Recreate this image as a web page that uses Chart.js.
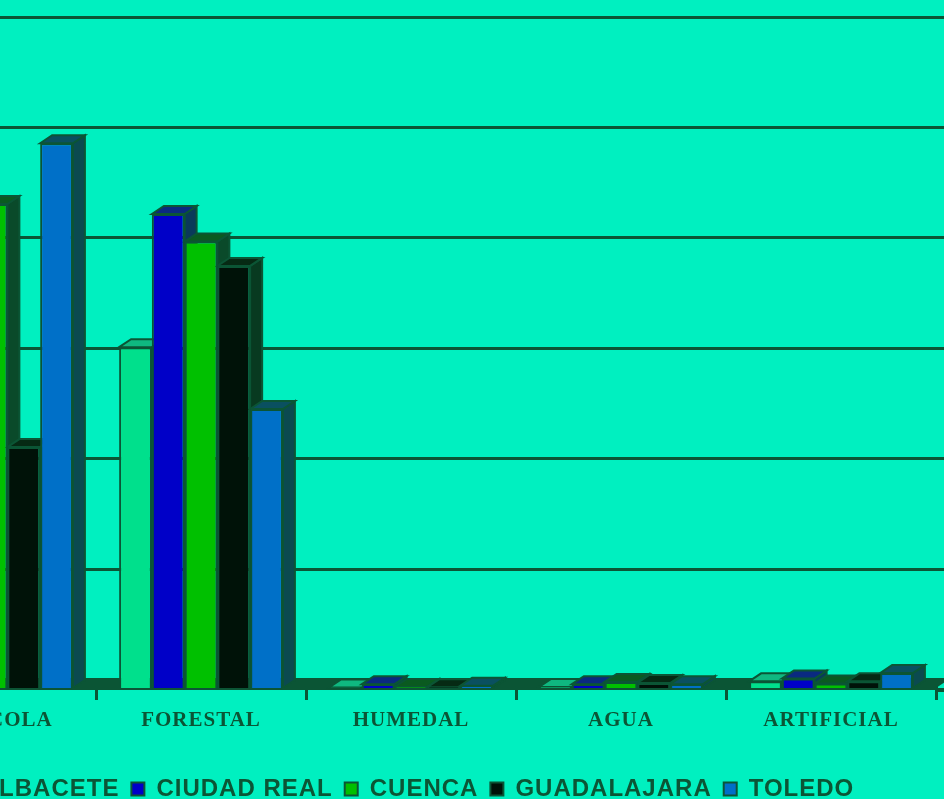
<!DOCTYPE html>
<html><head><meta charset="utf-8">
<script src="https://cdn.jsdelivr.net/npm/chart.js@4/dist/chart.umd.min.js"></script>
<style>
html,body{margin:0;padding:0;background:#00f0c0;overflow:hidden;width:944px;height:799px;}
#wrap{position:absolute;left:-130px;top:0;width:1080px;height:811px;}
</style></head><body>
<div id="wrap"><canvas id="c" width="1080" height="811"></canvas></div>
<script>
// ---- data (hectares) ----
const categories = ['AGRÍCOLA', 'FORESTAL', 'HUMEDAL', 'AGUA', 'ARTIFICIAL'];
const provinces = ['ALBACETE', 'CIUDAD REAL', 'CUENCA', 'GUADALAJARA', 'TOLEDO'];
const albacete    = [800000,  617000, 1000,  2000, 12000];
const ciudadReal  = [1050000, 858000, 7000,  7000, 17000];
const cuenca      = [876000,  808000, 2000, 11000,  8000];
const guadalajara = [436000,  764000, 1500,  9000, 12000];
const toledo      = [986000,  505000, 4000,  7000, 27000];
const gridTicks   = [0, 200000, 400000, 600000, 800000, 1000000, 1200000];

// ---- styles ----
const frontColors = ['#00e08c', '#0000c8', '#00c000', '#001208', '#0070c8'];
const capColors   = ['#0fb880', '#0a2a80', '#0a5a20', '#062a14', '#0a5060'];
const sideColors  = ['#0a4a35', '#0a3a5a', '#0a4a2a', '#083a20', '#0b4a50'];
const DARK = '#0b5535';
const DX = 12, DY = 8;
const TOP = 17, BOTTOM = 685;
const YMAX = 1200000;
const H = BOTTOM - TOP;
const D = DY * YMAX / (H - DY);   // depth expressed in value units

const seriesValues = [albacete, ciudadReal, cuenca, guadalajara, toledo];

const spacing = {
  id: 'spacing',
  beforeLayout(chart) { chart.ctx.letterSpacing = '1px'; },
  beforeDraw(chart) { chart.ctx.letterSpacing = '1px'; }
};

function align(px, w) { return Math.round(px - w / 2) + w / 2; }

const depth3d = {
  id: 'depth3d',
  beforeDatasetsDraw(chart) {
    const ctx = chart.ctx, a = chart.chartArea;
    const g = chart.scales.g;
    ctx.save();
    // extend back-wall grid lines to the right by the depth
    ctx.strokeStyle = DARK; ctx.lineWidth = 3;
    gridTicks.forEach(v => {
      const y = align(g.getPixelForValue(v), 3);
      ctx.beginPath(); ctx.moveTo(a.right - 1, y); ctx.lineTo(a.right + DX, y); ctx.stroke();
    });
    // floor
    ctx.fillStyle = DARK;
    ctx.beginPath();
    ctx.moveTo(a.left, a.bottom); ctx.lineTo(a.right, a.bottom);
    ctx.lineTo(a.right + DX, a.bottom - DY); ctx.lineTo(a.left + DX, a.bottom - DY);
    ctx.closePath(); ctx.fill();
    const n = chart.data.labels.length;
    for (let j = 0; j < n; j++) {
      chart.data.datasets.forEach((ds, i) => {
        const el = chart.getDatasetMeta(i).data[j];
        if (!el) return;
        const p = el.getProps(['x', 'y', 'base', 'width'], true);
        const l = p.x - p.width / 2, r = p.x + p.width / 2;
        ctx.lineWidth = 2;
        ctx.strokeStyle = DARK;
        // side
        ctx.fillStyle = sideColors[i];
        ctx.beginPath();
        ctx.moveTo(r, p.y); ctx.lineTo(r + DX, p.y - DY);
        ctx.lineTo(r + DX, p.base - DY); ctx.lineTo(r, p.base);
        ctx.closePath(); ctx.fill(); ctx.stroke();
        // cap
        ctx.fillStyle = capColors[i];
        ctx.beginPath();
        ctx.moveTo(l, p.y); ctx.lineTo(l + DX, p.y - DY);
        ctx.lineTo(r + DX, p.y - DY); ctx.lineTo(r, p.y);
        ctx.closePath(); ctx.fill(); ctx.stroke();
      });
    }
    ctx.restore();
  },
  afterDraw(chart) {
    const ctx = chart.ctx, a = chart.chartArea;
    ctx.save();
    ctx.strokeStyle = DARK; ctx.lineWidth = 4;
    ctx.beginPath(); ctx.moveTo(a.right, a.bottom + 2); ctx.lineTo(a.right + DX, a.bottom + 2); ctx.stroke();
    ctx.restore();
  }
};

new Chart(document.getElementById('c'), {
  type: 'bar',
  data: {
    labels: categories,
    datasets: provinces.map((name, i) => ({
      label: name,
      data: seriesValues[i],
      backgroundColor: frontColors[i],
      borderColor: DARK,
      borderWidth: 2,
      categoryPercentage: 0.78,
      barPercentage: 1.0,
      yAxisID: 'y'
    }))
  },
  options: {
    responsive: false,
    animation: false,
    layout: { padding: { left: 4, right: 14, top: TOP, bottom: 0 } },
    plugins: {
      tooltip: { enabled: false },
      legend: {
        position: 'bottom',
        labels: {
          color: DARK,
          font: { family: 'Liberation Sans', size: 24, weight: 'bold' },
          boxWidth: 13, boxHeight: 13, padding: 12
        }
      }
    },
    scales: {
      x: {
        offset: true,
        afterFit: s => { s.height = 77; },
        grid: { offset: true, drawOnChartArea: false, color: DARK, lineWidth: 3, tickLength: 12 },
        border: { display: true, color: DARK, width: 4 },
        ticks: { color: DARK, font: { family: 'Liberation Serif', size: 21, weight: 'bold' }, padding: 8 }
      },
      y: {
        display: false, min: 0, max: YMAX + D
      },
      g: {
        type: 'linear', position: 'left', min: -D, max: YMAX,
        afterBuildTicks: s => { s.ticks = gridTicks.map(v => ({ value: v })); },
        afterFit: s => { s.width = 12; },
        grid: { color: DARK, lineWidth: 3, drawTicks: false },
        border: { display: false },
        ticks: { display: false }
      }
    }
  },
  plugins: [spacing, depth3d]
});
</script>
</body></html>
